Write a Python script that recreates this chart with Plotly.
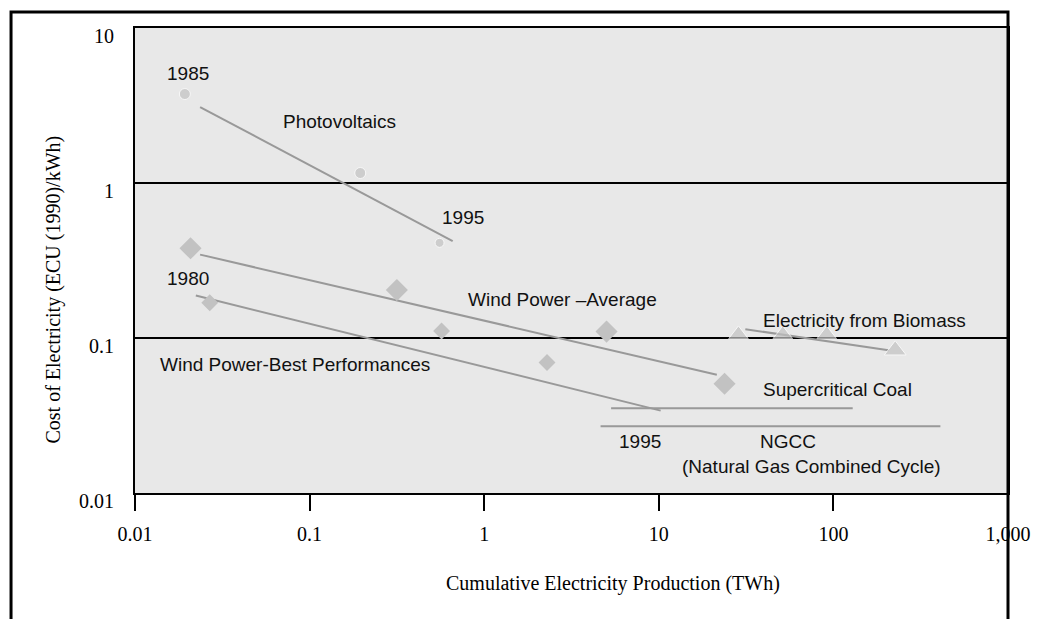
import numpy as np
import plotly.graph_objects as go

# Experience curves, EU electricity technologies
pv_x = [0.0193, 0.195, 0.555]
pv_y = [3.75, 1.16, 0.411]
pv_fit_x = [0.0236, 0.66]
pv_fit_y = [3.09, 0.422]

wind_avg_x = [0.0208, 0.316, 5.02, 23.8]
wind_avg_y = [0.379, 0.204, 0.110, 0.0507]
wind_avg_fit_x = [0.0236, 21.5]
wind_avg_fit_y = [0.345, 0.058]

wind_best_x = [0.0268, 0.570, 2.29]
wind_best_y = [0.169, 0.111, 0.0695]
wind_best_fit_x = [0.0223, 10.25]
wind_best_fit_y = [0.188, 0.034]

bio_x = [28.6, 51.3, 91.6, 226]
bio_y = [0.1055, 0.1055, 0.1055, 0.0834]
bio_fit_x = [31.3, 207]
bio_fit_y = [0.114, 0.0834]

coal_x = [5.33, 129]
coal_y = [0.0352, 0.0352]
ngcc_x = [4.64, 410]
ngcc_y = [0.027, 0.027]

x_ticks = [0.01, 0.1, 1, 10, 100, 1000]
x_ticktext = ['0.01', '0.1', '1', '10', '100', '1,000']
y_ticks = [0.01, 0.1, 1, 10]
y_ticktext = ['0.01', '0.1', '1', '10']

# text labels: (text, x, y, anchor)
etiquetas = [
    ('1985', 0.02, 5.05, 'center'),
    ('Photovoltaics', 0.149, 2.48, 'center'),
    ('1995', 0.755, 0.60, 'center'),
    ('1980', 0.02, 0.243, 'center'),
    ('Wind Power \u2013Average', 2.81, 0.176, 'center'),
    ('Wind Power-Best Performances', 0.0136, 0.0671, 'left'),
    ('Electricity from Biomass', 38.5, 0.129, 'left'),
    ('Supercritical Coal', 38.5, 0.0467, 'left'),
    ('1995', 7.82, 0.0214, 'center'),
    ('NGCC', 54.6, 0.0214, 'center'),
    ('(Natural Gas Combined Cycle)', 75.2, 0.0149, 'center'),
]

MARK = '#c2c2c2'
LINEA = '#999999'

fig = go.Figure()

# trend lines
for fx, fy in [(pv_fit_x, pv_fit_y), (wind_avg_fit_x, wind_avg_fit_y),
               (wind_best_fit_x, wind_best_fit_y), (bio_fit_x, bio_fit_y),
               (coal_x, coal_y), (ngcc_x, ngcc_y)]:
    fig.add_trace(go.Scatter(x=fx, y=fy, mode='lines',
                             line=dict(color=LINEA, width=2),
                             showlegend=False, hoverinfo='skip'))

fig.add_trace(go.Scatter(x=pv_x, y=pv_y, mode='markers', name='Photovoltaics',
                         marker=dict(symbol='circle', size=[11, 11, 9], color=MARK)))
fig.add_trace(go.Scatter(x=wind_avg_x, y=wind_avg_y, mode='markers', name='Wind Power - Average',
                         marker=dict(symbol='diamond', size=17, color=MARK)))
fig.add_trace(go.Scatter(x=wind_best_x, y=wind_best_y, mode='markers', name='Wind Power - Best',
                         marker=dict(symbol='diamond', size=13, color=MARK)))
fig.add_trace(go.Scatter(x=bio_x, y=bio_y, mode='markers', name='Biomass',
                         marker=dict(symbol='triangle-up', size=[17, 17, 17, 19], color=MARK)))

for txt, x, y, anc in etiquetas:
    fig.add_annotation(x=np.log10(x), y=np.log10(y), text=txt, showarrow=False,
                       xanchor=anc, yanchor='middle',
                       font=dict(family='Liberation Sans, Arial', size=19, color='#111111'))

# axis titles
fig.add_annotation(x=0.5475, y=-0.2237, xref='paper', yref='paper', showarrow=False,
                   text='Cumulative Electricity Production (TWh)',
                   font=dict(family='Liberation Serif, Times New Roman', size=20, color='black'))
fig.add_annotation(x=-0.1088, y=0.4366, xref='paper', yref='paper', showarrow=False,
                   text='Cost of Electricity (ECU (1990)/kWh)', textangle=-90,
                   font=dict(family='Liberation Serif, Times New Roman', size=20, color='black'))

# outer frame (open at the bottom)
fig.add_shape(type='path', xref='paper', yref='paper',
              path='M -0.142 -0.35 L -0.142 1.0344 L 1.0 1.0344 L 1.0 -0.35',
              line=dict(color='black', width=3))

fig.update_layout(
    width=1049, height=619,
    margin=dict(l=135, r=41, t=28, b=126),
    paper_bgcolor='white',
    plot_bgcolor='#e8e8e8',
    showlegend=False,
    xaxis=dict(
        type='log', range=[-2, 3],
        tickmode='array', tickvals=x_ticks, ticktext=x_ticktext,
        ticks='outside', ticklen=16, tickwidth=2, tickcolor='black',
        ticklabelstandoff=6,
        showgrid=False, zeroline=False,
        showline=True, linecolor='black', linewidth=2, mirror=True,
        tickfont=dict(family='Liberation Serif, Times New Roman', size=20, color='black'),
    ),
    yaxis=dict(
        type='log', range=[-2, 1],
        tickmode='array', tickvals=y_ticks, ticktext=y_ticktext,
        ticks='', ticklabelstandoff=15, ticklabelshift=8,
        showgrid=True, gridcolor='black', gridwidth=2, zeroline=False,
        showline=True, linecolor='black', linewidth=2, mirror=True,
        tickfont=dict(family='Liberation Serif, Times New Roman', size=20, color='black'),
    ),
)

fig.write_html('out.html', config={'displayModeBar': False},
               post_script="document.body.style.margin='0';")
